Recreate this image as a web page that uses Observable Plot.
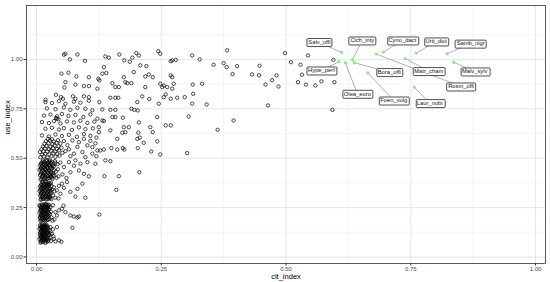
<!DOCTYPE html>
<html>
<head>
<meta charset="utf-8">
<script src="https://cdn.jsdelivr.net/npm/d3@7"></script>
<script src="https://cdn.jsdelivr.net/npm/@observablehq/plot@0.6"></script>
<style>
  html, body { margin: 0; padding: 0; background: #fff; }
  svg { display: block; }
</style>
</head>
<body>
<script>
// ---- data: [cit_index, use_index] pairs ----
const bandLow = [
  [0.008,0.072],[0.013,0.075],[0.018,0.071],[0.022,0.078],[0.010,0.082],[0.016,0.085],[0.006,0.090],[0.020,0.088],
  [0.024,0.084],[0.012,0.094],[0.017,0.097],[0.009,0.101],[0.022,0.099],[0.014,0.106],[0.007,0.110],[0.019,0.108],
  [0.025,0.112],[0.011,0.115],[0.016,0.119],[0.021,0.121],[0.008,0.124],[0.013,0.128],[0.018,0.131],[0.023,0.127],
  [0.010,0.135],[0.015,0.138],[0.006,0.142],[0.020,0.140],[0.012,0.146],[0.017,0.149],[0.024,0.145],[0.009,0.153],
  [0.014,0.156],[0.019,0.158],[0.007,0.161],[0.011,0.164],[0.016,0.163],[0.022,0.155],[0.026,0.135],[0.027,0.098],
  [0.029,0.080],[0.031,0.118],[0.035,0.092],[0.045,0.084],[0.028,0.151],[0.041,0.151],[0.072,0.148],[0.028,0.117],
  [0.034,0.104],[0.038,0.079],[0.050,0.077],[0.033,0.140],
  [0.009,0.078],[0.014,0.081],[0.019,0.079],[0.011,0.088],[0.016,0.092],[0.021,0.093],[0.008,0.096],[0.013,0.100],
  [0.018,0.103],[0.010,0.107],[0.015,0.111],[0.020,0.114],[0.012,0.120],[0.017,0.124],[0.022,0.133],[0.009,0.130],
  [0.014,0.133],[0.019,0.136],[0.011,0.141],[0.016,0.144],[0.021,0.148],[0.008,0.148],[0.013,0.152],[0.018,0.153],
  [0.010,0.158],[0.015,0.160],[0.020,0.162],[0.023,0.118],[0.024,0.095],[0.007,0.119]
];
const bandQuarter = [
  [0.008,0.182],[0.013,0.186],[0.018,0.181],[0.023,0.188],[0.010,0.193],[0.016,0.196],[0.021,0.199],[0.026,0.192],
  [0.007,0.203],[0.012,0.207],[0.019,0.205],[0.024,0.210],[0.009,0.214],[0.015,0.217],[0.020,0.220],[0.027,0.216],
  [0.006,0.224],[0.011,0.228],[0.017,0.226],[0.023,0.231],[0.013,0.236],[0.008,0.240],[0.019,0.239],[0.025,0.242],
  [0.010,0.248],[0.015,0.251],[0.021,0.249],[0.007,0.256],[0.013,0.259],[0.018,0.262],[0.024,0.257],[0.010,0.266],
  [0.016,0.268],[0.022,0.265],[0.028,0.252],[0.029,0.229],[0.030,0.200],[0.032,0.184],[0.038,0.227],[0.051,0.244],
  [0.058,0.227],[0.068,0.210],[0.082,0.200],[0.041,0.210],[0.054,0.260],[0.075,0.205],[0.085,0.205],[0.126,0.215],
  [0.036,0.190],[0.045,0.236],[0.033,0.262],
  [0.010,0.185],[0.015,0.189],[0.020,0.186],[0.012,0.197],[0.018,0.201],[0.023,0.203],[0.009,0.208],[0.014,0.211],
  [0.021,0.213],[0.011,0.219],[0.017,0.222],[0.022,0.225],[0.008,0.232],[0.014,0.230],[0.020,0.234],[0.010,0.237],
  [0.016,0.241],[0.022,0.244],[0.012,0.246],[0.018,0.253],[0.023,0.250],[0.009,0.252],[0.015,0.256],[0.020,0.258],
  [0.012,0.263],[0.019,0.267],[0.025,0.222],[0.007,0.196],[0.025,0.264],[0.006,0.262]
];
const bandThird = [
  [0.008,0.290],[0.013,0.294],[0.019,0.291],[0.024,0.297],[0.030,0.293],[0.010,0.301],[0.016,0.304],[0.022,0.307],
  [0.027,0.302],[0.007,0.311],[0.012,0.315],[0.018,0.313],[0.025,0.318],[0.033,0.312],[0.009,0.323],[0.015,0.326],
  [0.021,0.324],[0.028,0.329],[0.006,0.334],[0.012,0.337],[0.018,0.339],[0.024,0.336],[0.031,0.341],[0.009,0.346],
  [0.015,0.349],[0.021,0.352],[0.027,0.347],[0.035,0.353],[0.007,0.357],[0.013,0.361],[0.019,0.359],[0.025,0.364],
  [0.010,0.369],[0.016,0.372],[0.022,0.370],[0.029,0.375],[0.012,0.380],[0.018,0.383],[0.036,0.332],[0.038,0.300],
  [0.051,0.371],[0.061,0.379],[0.082,0.345],[0.092,0.371],[0.098,0.300],[0.078,0.306],[0.160,0.340],[0.048,0.320],
  [0.041,0.337],[0.045,0.360],[0.055,0.350],[0.068,0.330],[0.044,0.296],
  [0.010,0.292],[0.016,0.296],[0.022,0.293],[0.027,0.297],[0.012,0.305],[0.019,0.309],[0.025,0.306],[0.009,0.317],
  [0.015,0.320],[0.022,0.318],[0.029,0.321],[0.011,0.330],[0.017,0.333],[0.023,0.331],[0.028,0.337],[0.008,0.340],
  [0.014,0.343],[0.020,0.345],[0.026,0.342],[0.011,0.352],[0.017,0.355],[0.023,0.357],[0.030,0.360],[0.009,0.363],
  [0.015,0.366],[0.021,0.365],[0.027,0.369],[0.013,0.375],[0.020,0.377],[0.025,0.373]
];
const bandMid = [
  [0.008,0.392],[0.014,0.396],[0.020,0.394],[0.026,0.399],[0.032,0.395],[0.040,0.401],[0.011,0.404],[0.017,0.407],
  [0.023,0.410],[0.029,0.405],[0.036,0.411],[0.044,0.408],[0.007,0.415],[0.013,0.418],[0.019,0.421],[0.026,0.417],
  [0.033,0.423],[0.010,0.428],[0.016,0.431],[0.022,0.434],[0.029,0.429],[0.039,0.432],[0.006,0.440],[0.012,0.443],
  [0.018,0.446],[0.025,0.441],[0.031,0.447],[0.043,0.444],[0.009,0.452],[0.015,0.455],[0.021,0.458],[0.028,0.453],
  [0.035,0.459],[0.007,0.464],[0.013,0.468],[0.019,0.466],[0.026,0.471],[0.033,0.467],[0.042,0.470],[0.010,0.477],
  [0.016,0.480],[0.023,0.478],[0.030,0.483],[0.013,0.489],[0.020,0.492],[0.027,0.488],[0.037,0.485],[0.048,0.478],
  [0.078,0.489],[0.088,0.472],[0.102,0.480],[0.118,0.472],[0.138,0.489],[0.148,0.485],[0.095,0.421],[0.105,0.408],
  [0.136,0.409],[0.165,0.409],[0.206,0.429],[0.068,0.429],[0.055,0.455],[0.085,0.438],[0.060,0.400],[0.075,0.462],
  [0.065,0.480],[0.052,0.418],
  [0.010,0.395],[0.017,0.399],[0.023,0.397],[0.030,0.401],[0.013,0.410],[0.020,0.413],[0.027,0.411],[0.034,0.416],
  [0.009,0.421],[0.016,0.424],[0.023,0.426],[0.030,0.424],[0.012,0.435],[0.019,0.438],[0.026,0.436],[0.035,0.439],
  [0.008,0.447],[0.015,0.449],[0.022,0.451],[0.029,0.448],[0.011,0.459],[0.018,0.461],[0.025,0.463],[0.032,0.460],
  [0.009,0.471],[0.016,0.473],[0.022,0.470],[0.029,0.475],[0.013,0.482],[0.020,0.485],[0.026,0.481],[0.038,0.477]
];
const bandHalf = [
  [0.008,0.505],[0.015,0.509],[0.022,0.503],[0.030,0.511],[0.038,0.507],[0.046,0.513],[0.011,0.518],[0.018,0.522],
  [0.026,0.519],[0.034,0.525],[0.042,0.521],[0.052,0.527],[0.007,0.531],[0.014,0.535],[0.021,0.533],[0.029,0.538],
  [0.037,0.534],[0.045,0.540],[0.058,0.536],[0.010,0.545],[0.017,0.549],[0.025,0.546],[0.033,0.551],[0.041,0.547],
  [0.050,0.553],[0.013,0.559],[0.020,0.562],[0.028,0.558],[0.036,0.564],[0.044,0.560],[0.062,0.566],[0.016,0.573],
  [0.024,0.576],[0.032,0.571],[0.040,0.578],[0.048,0.574],[0.019,0.586],[0.027,0.589],[0.035,0.584],[0.043,0.591],
  [0.055,0.587],[0.023,0.598],[0.031,0.596],
  [0.102,0.565],[0.112,0.556],[0.085,0.581],[0.092,0.531],[0.112,0.523],[0.075,0.523],[0.065,0.545],[0.072,0.590],
  [0.095,0.598],[0.108,0.588],[0.118,0.575],[0.082,0.557],[0.068,0.510],[0.098,0.505],[0.120,0.510],
  [0.122,0.539],[0.128,0.539],[0.135,0.544],[0.150,0.551],[0.162,0.543],[0.173,0.551],[0.176,0.544],[0.203,0.551],
  [0.230,0.534],[0.248,0.519],[0.302,0.526],[0.162,0.598],[0.202,0.598],[0.207,0.604],[0.215,0.578],[0.242,0.585]
];
const bandUpper = [
  [0.018,0.784],[0.031,0.779],[0.045,0.789],[0.058,0.776],[0.075,0.786],[0.088,0.781],[0.105,0.791],
  [0.021,0.752],[0.038,0.748],[0.055,0.757],[0.068,0.745],[0.082,0.755],[0.098,0.750],[0.112,0.743],
  [0.015,0.716],[0.028,0.721],[0.041,0.712],[0.051,0.724],[0.064,0.714],[0.078,0.719],[0.094,0.709],[0.108,0.722],
  [0.041,0.700],[0.044,0.697],[0.039,0.703],
  [0.011,0.683],[0.025,0.678],[0.035,0.688],[0.048,0.676],[0.061,0.686],[0.075,0.681],[0.088,0.690],[0.102,0.679],[0.116,0.685],
  [0.018,0.649],[0.031,0.654],[0.045,0.645],[0.055,0.652],[0.071,0.643],[0.085,0.656],[0.098,0.647],[0.113,0.651],
  [0.011,0.615],[0.025,0.610],[0.038,0.620],[0.051,0.612],[0.065,0.618],[0.081,0.608],[0.095,0.622],[0.108,0.613],[0.120,0.604],
  [0.125,0.657],[0.148,0.641],[0.175,0.657],[0.185,0.657],[0.228,0.657],[0.259,0.666],[0.269,0.666],[0.125,0.632],
  [0.172,0.629],[0.178,0.632],[0.204,0.629],[0.233,0.632]
];
const bandTop = [
  [0.055,1.024],[0.058,1.029],[0.067,1.000],[0.082,1.025],[0.097,0.993],[0.050,0.928],[0.064,0.933],[0.080,0.914],
  [0.105,0.910],[0.058,0.885],[0.056,0.858],[0.078,0.872],[0.095,0.865],[0.105,0.865],[0.039,0.821],[0.049,0.809],
  [0.053,0.801],[0.073,0.813],[0.078,0.801],[0.095,0.813],[0.105,0.809],[0.018,0.796],
  [0.138,1.015],[0.145,1.009],[0.166,1.025],[0.176,0.995],[0.187,0.988],[0.192,1.009],[0.200,1.032],[0.205,1.020],
  [0.244,1.042],[0.248,1.029],[0.269,0.991],[0.272,0.995],[0.279,0.998],[0.312,1.020],[0.327,1.000],
  [0.135,0.961],[0.208,0.970],[0.220,0.966],[0.132,0.928],[0.140,0.931],[0.124,0.902],[0.126,0.894],[0.195,0.936],
  [0.218,0.914],[0.225,0.924],[0.233,0.910],[0.269,0.919],[0.272,0.910],[0.175,0.910],
  [0.152,0.880],[0.158,0.860],[0.165,0.860],[0.178,0.885],[0.182,0.880],[0.190,0.880],[0.218,0.860],[0.248,0.877],
  [0.252,0.860],[0.255,0.868],[0.262,0.860],[0.272,0.852],[0.275,0.877],[0.313,0.873],[0.332,0.877],[0.122,0.852],
  [0.126,0.784],[0.148,0.806],[0.158,0.806],[0.164,0.806],[0.212,0.813],[0.226,0.799],[0.255,0.809],[0.259,0.823],
  [0.269,0.801],[0.282,0.806],[0.297,0.809],[0.314,0.826],[0.312,0.776],[0.202,0.784],[0.245,0.776],
  [0.132,0.747],[0.148,0.745],[0.158,0.745],[0.190,0.750],[0.196,0.745],[0.203,0.742],[0.242,0.708],[0.305,0.711],
  [0.122,0.700],[0.132,0.691],[0.135,0.688],[0.152,0.708],[0.158,0.708],[0.173,0.705],[0.205,0.681]
];
const bandRight = [
  [0.355,0.973],[0.375,0.981],[0.381,0.961],[0.382,1.046],[0.402,0.966],[0.393,0.926],[0.432,0.924],[0.447,0.968],
  [0.446,0.920],[0.459,0.873],[0.472,0.895],[0.481,0.919],[0.485,0.863],[0.498,1.032],[0.510,0.986],[0.529,0.973],
  [0.532,0.923],[0.524,0.885],[0.540,0.873],[0.544,1.020],[0.341,0.772],[0.464,0.767],[0.395,0.691],[0.363,0.644],
  [0.595,0.998],[0.559,0.868],[0.571,0.889],[0.597,0.885],[0.593,0.745]
];

// highlighted species
const species   = ["Salv_offi","Cich_inty","Olea_euro","Hype_perf","Bora_offi","Foen_vulg","Cyno_dact","Rosm_offi","Matr_cham","Urti_dioi","Laur_nobi","Samb_nigr","Malv_sylv"];
const speciesCit = [0.611,0.633,0.619,0.606,0.637,0.664,0.695,0.681,0.739,0.761,0.757,0.823,0.836];
const speciesUse = [1.035,0.998,0.983,0.988,0.983,0.931,1.037,1.027,1.004,1.032,0.860,1.029,0.986];
const labelCit   = [0.567,0.653,0.643,0.571,0.707,0.716,0.733,0.851,0.786,0.801,0.788,0.870,0.878];
const labelUse   = [1.088,1.096,0.826,0.944,0.936,0.792,1.096,0.863,0.941,1.091,0.779,1.080,0.939];

const xBreaks = [0, 0.25, 0.5, 0.75, 1];
const yBreaks = [0, 0.25, 0.5, 0.75, 1];
const xMinor = [0.125, 0.375, 0.625, 0.875];
const yMinor = [0.125, 0.375, 0.625, 0.875, 1.125];

const points = [...bandLow, ...bandQuarter, ...bandThird, ...bandMid, ...bandHalf, ...bandUpper, ...bandTop, ...bandRight]
  .map(([c, u]) => ({cit: c, use: u}));
const labelled = species.map((s, i) => ({
  name: s, cit: speciesCit[i], use: speciesUse[i], lx: labelCit[i], ly: labelUse[i]
}));

const fmt = d3.format(".2f");
const svg = Plot.plot({
  width: 550,
  height: 282,
  marginLeft: 26,
  marginRight: 5,
  marginTop: 5,
  marginBottom: 19,
  style: {fontFamily: "'Liberation Sans', Arial, sans-serif", background: "#fff"},
  x: {domain: [-0.02, 1.02]},
  y: {domain: [-0.033, 1.273]},
  marks: [
    Plot.gridX(xMinor, {stroke: "#ebebeb", strokeOpacity: 1, strokeWidth: 0.5}),
    Plot.gridY(yMinor, {stroke: "#ebebeb", strokeOpacity: 1, strokeWidth: 0.5}),
    Plot.gridX(xBreaks, {stroke: "#e4e4e4", strokeOpacity: 1, strokeWidth: 0.9}),
    Plot.gridY(yBreaks, {stroke: "#e4e4e4", strokeOpacity: 1, strokeWidth: 0.9}),
    Plot.axisX(xBreaks, {tickSize: 2.5, tickPadding: 1, tickFormat: fmt, fontSize: 6, stroke: "#333", fill: "#4d4d4d", label: null}),
    Plot.axisY(yBreaks, {tickSize: 2.5, tickPadding: 1.5, tickFormat: fmt, fontSize: 6, stroke: "#333", fill: "#4d4d4d", label: null}),
    Plot.dot(points, {x: "cit", y: "use", r: 1.7, stroke: "#000", strokeWidth: 0.7, fill: "none"}),
    Plot.link(labelled, {x1: "cit", y1: "use", x2: "lx", y2: "ly", stroke: "#7a7a7a", strokeWidth: 0.6}),
    Plot.dot(labelled, {x: "cit", y: "use", r: 1.7, fill: "#8fe88f"}),
    Plot.text(labelled, {x: "lx", y: "ly", text: "name", fontSize: 5.8, fill: "#111", ariaDescription: "species-labels"}),
    Plot.frame({stroke: "#333", strokeWidth: 0.8}),
    Plot.text(["cit_index"], {text: d => d, frameAnchor: "bottom", dy: 15.5, fontSize: 7.5, fill: "#000"}),
    Plot.text(["use_index"], {text: d => d, frameAnchor: "left", dx: -19, rotate: -90, fontSize: 7.5, fill: "#000"})
  ]
});
document.body.append(svg);

// white rounded boxes behind the species labels (sized from their rendered text)
const g = svg.querySelector('g[aria-description="species-labels"]');
if (g) {
  g.querySelectorAll("text").forEach(t => {
    const b = t.getBBox();
    const r = document.createElementNS("http://www.w3.org/2000/svg", "rect");
    const px = 1.6, py = 0.8;
    r.setAttribute("x", Math.round(b.x - px) + 0.5);
    r.setAttribute("y", Math.round(b.y - py) + 0.5);
    r.setAttribute("width", Math.round(b.width + 2 * px));
    r.setAttribute("height", Math.round(b.height + 2 * py));
    r.setAttribute("rx", 1);
    r.setAttribute("fill", "#fff");
    r.setAttribute("stroke", "#222");
    r.setAttribute("stroke-width", 0.8);
    const tr = t.getAttribute("transform");
    if (tr) r.setAttribute("transform", tr);
    t.parentNode.insertBefore(r, t);
  });
}
</script>
</body>
</html>
